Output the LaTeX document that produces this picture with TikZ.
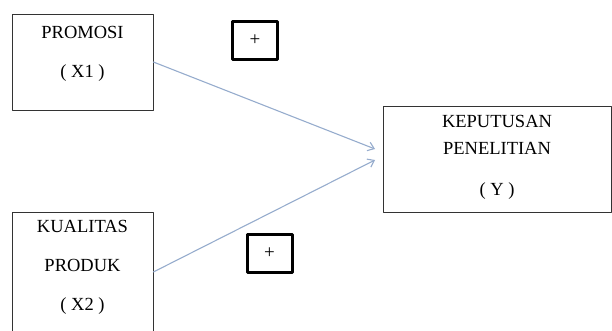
\documentclass[tikz,border=0pt]{standalone}
\usepackage{fontspec}
\setmainfont{Liberation Serif}
\usetikzlibrary{arrows.meta}
\definecolor{flowblue}{RGB}{150,172,205}
\begin{document}
\begin{tikzpicture}[x=1pt, y=-1pt, line join=round, line cap=round, >={Straight Barb[length=6pt,width=9pt]}]
\tikzset{every node/.style={inner sep=0pt},
  varbox/.style={draw=black!80, line width=0.8pt},
  vartext/.style={align=center, font=\fontsize{18.5}{27}\selectfont},
  signbox/.style={draw, line width=3pt, minimum width=45pt, minimum height=38pt, font=\fontsize{19}{19}\selectfont},
  flow/.style={->, draw=flowblue, line width=1.1pt}}
\useasboundingbox (0,0) rectangle (612,331);
% variable boxes
\node[varbox, minimum width=141pt, minimum height=96pt] (x1) at (82.5,62) {};
\node[vartext] (x1t) at ([yshift=8pt]x1.center) {PROMOSI\\[12pt]( X1 )};
\node[varbox, minimum width=141pt, minimum height=120pt] (x2) at (82.5,272) {};
\node[vartext] (x2t) at ([yshift=5pt]x2.center) {KUALITAS\\[12pt]PRODUK\\[12pt]( X2 )};
\node[varbox, minimum width=228pt, minimum height=106pt] (y) at (497,159) {};
\node[vartext] (yt) at ([yshift=2pt]y.center) {KEPUTUSAN\\PENELITIAN\\[14pt]( Y )};
% sign boxes
\node[signbox] (s1) at (255,40.5) {+};
\node[signbox] (s2) at (269.5,253) {+};
% arrows into Y
\coordinate (yin1) at (375,149);
\coordinate (yin2) at (375,160);
\draw[flow] (x1.east) -- (yin1);
\draw[flow] (x2.east) -- (yin2);
\end{tikzpicture}
\end{document}
